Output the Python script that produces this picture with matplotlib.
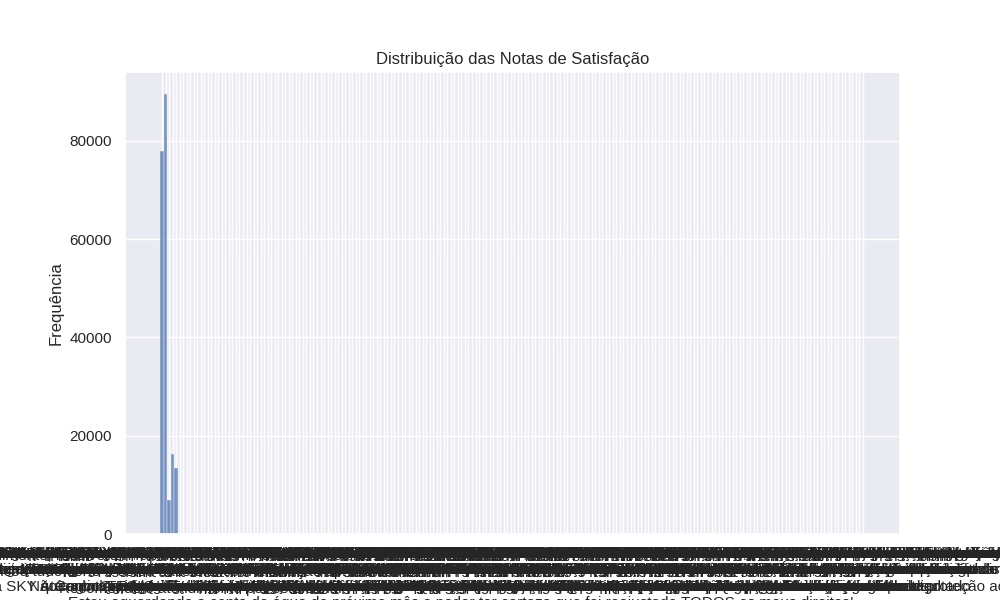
import matplotlib
matplotlib.use('Agg')
import matplotlib.pyplot as plt
import seaborn as sns


# notas de 1 a 5 (na ordem em que aparecem no arquivo)
notas = ['5', '1', '2', '3', '4']
freq_notas = [78000, 89500, 7000, 16300, 13500]

# respostas em texto livre que vieram parar na coluna de nota (1 ocorrência cada)
comentarios = [
    'Empresa não resolveu o problema e ainda cobrou multa indevida na fatura seguinte\nJá liguei diversas vezes e cada atendente fala uma coisa diferente',
    'Atendimento péssimo, fiquei horas esperando na linha e ninguém soube me informar nada\nA ligação caiu três vezes e tive que começar tudo de novo\nNão tenho mais paciência com essa empresa',
    'A TIM cancelou meu plano sem aviso prévio e agora quer cobrar taxa para reativar\nQuero meu plano antigo de volta com as mesmas condições',
    'Problema resolvido parcialmente, ainda aguardo o reembolso do valor cobrado a mais\nA empresa informou que o crédito viria em até duas faturas\nAté agora nada foi creditado na minha conta',
    'Cobrança de serviços que nunca contratei, solicitei o cancelamento várias vezes\nTenho todos os protocolos anotados e mesmo assim nada acontece\nsão a TIM e a SKY que continuam cobrando todo mês e ninguém resolve a situação',
    'Internet continua lenta mesmo após a visita técnica e a troca do roteador\nContratei 100 mega e não chega nem a 10 mega no teste de velocidade',
    'Ótimo atendimento, resolveram rápido e ainda me deram desconto na mensalidade\nFicou tudo certo e estou satisfeito com a solução apresentada\nRecomendo o atendimento por este canal',
    'A SKY não devolveu o valor pago em duplicidade no boleto do mês passado\nSigo sem resposta e sem o dinheiro de volta',
    'Fui bem atendido pela Vivo, a atendente explicou tudo com calma e resolveu\nO valor cobrado indevidamente foi retirado da fatura\nAgradeço pela atenção',
    'O técnico não compareceu na data agendada e não houve remarcação do serviço\nPerdi um dia de trabalho esperando em casa',
    'Sinal da Claro cai toda noite e já abri vários protocolos sem nenhuma solução\nO atendimento diz que é problema na região mas os vizinhos não têm o problema\nQuero o cancelamento sem multa',
    'Só resolveram depois da reclamação aqui no site, pelo telefone foi impossível\nDemorou mas finalmente o serviço voltou a funcionar',
    'Oi cobrou valor acima do contratado na fatura de março e prometeu estorno\nPassaram dois meses e nada foi feito até agora\nContinuo pagando o valor errado todos os meses',
    'Demoraram mais de 10 dias para responder e a resposta não resolveu nada\nVou procurar outros meios para resolver o meu problema',
    'Resposta padrão, não leram minha reclamação e mandaram um texto qualquer\nO problema continua exatamente o mesmo de antes\nEspero uma resposta de verdade',
    'Minha linha foi portada sem minha autorização e perdi meu número de anos\nNinguém sabe explicar como isso aconteceu',
    'Estão de parabéns pela solução, o problema foi resolvido em poucas horas\nO atendente ligou para confirmar que estava tudo funcionando\nMuito obrigado pela atenção',
    'O valor foi estornado mas a multa continua aparecendo na fatura deste mês\nSolicito a retirada da multa que foi cobrada indevidamente',
    'NET mudou o plano sem consultar e aumentaram o valor em trinta por cento\nNão aceitam a volta ao plano antigo nem dão explicação\nIsso é um desrespeito com o cliente antigo',
    'Não consigo falar com ninguém pelo 0800, a ligação sempre cai na espera\nO chat também não funciona e o e-mail nunca é respondido',
    'Aguardando a instalação há mais de um mês, já paguei a taxa de adesão\nCada vez que ligo informam uma nova data para a visita\nNinguém aparece na data marcada',
    'A empresa entrou em contato e resolveu tudo de maneira rápida e educada\nobrigado pela atenção e pelo respeito com o consumidor',
    'Cancelei o serviço em janeiro e continuam mandando boletos todos os meses\nJá enviei o número do protocolo de cancelamento várias vezes\nAgora estão ameaçando negativar meu nome',
    'Meu nome foi negativado por uma dívida que não é minha e nunca contratei\nPeço a retirada imediata do SPC e Serasa e uma resposta por escrito\nSem retorno da operadora até o momento',
    'Atendente foi educado mas não resolveu nada, apenas registrou mais um protocolo\nO problema continua e ninguém dá uma previsão de solução',
    'Recebi o aparelho com defeito e não querem trocar porque passou o prazo\nO defeito apareceu no primeiro dia de uso\nTenho as fotos e o vídeo mostrando o problema',
    'TIM resolveu em dois dias e ainda me ligou para saber se estava tudo bem\nFiquei satisfeito com a rapidez da resposta',
    'Plano de dados acaba antes do prazo e suspeito de cobrança indevida de consumo\nNão uso vídeos nem aplicativos pesados no celular\nQuero o extrato detalhado do consumo',
    'Falta de respeito com o consumidor, prometem uma coisa e fazem outra\nNunca mais contrato nada com essa operadora',
    'Reclamação encerrada sem solução e sem nenhum contato da empresa comigo\nO problema continua igual desde o primeiro dia\nVou abrir uma nova reclamação',
    'Solicitei a segunda via da fatura e não chegou nem pelo correio nem por e-mail\nAgora estão cobrando juros pelo atraso no pagamento',
    'Os créditos do pré-pago somem sem uso e já é a terceira vez este ano\nFaço a recarga e em dois dias o saldo está zerado\nNinguém explica para onde vai o dinheiro',
    'Prometeram desconto na próxima fatura e não cumpriram o que foi combinado\nO atendente ainda disse que não havia registro da promessa',
    'A Vivo bloqueou minha linha sem motivo e fiquei sem comunicação por uma semana\nPreciso do telefone para trabalhar e tive prejuízo\nQuero uma compensação pelo tempo sem serviço',
    'Satisfeito com o retorno, a empresa cumpriu o prazo e resolveu o problema\nEspero que não aconteça novamente',
    'Péssimo, não recomendo essa empresa para ninguém, atendimento horrível\nFiquei semanas sem serviço e ainda tive que pagar a fatura cheia\nVou cancelar assim que puder',
    'Após a reclamação o serviço voltou a funcionar normalmente na minha casa\nEspero que continue assim e que não precise reclamar de novo',
    'A loja não aceitou a devolução dentro do prazo de sete dias do arrependimento\nO produto estava lacrado e com a nota fiscal\nExijo o reembolso integral do valor',
    'Sinal de TV com chuviscos constantes, principalmente nos canais abertos\nO técnico veio e disse que está tudo normal com a antena',
    'Oferta anunciada não foi respeitada na contratação do plano pela internet\nQuero pagar o valor que estava no anúncio do site\nGuardei a imagem da propaganda',
    'O problema se repete todo mês, sempre uma cobrança diferente na fatura\nJá cansei de ligar para pedir a correção dos valores',
    'Continuo sem internet em casa, a empresa diz que está tudo normal no sistema\nMas o modem não conecta e a luz fica piscando vermelha\nTrabalho em casa e estou tendo muito prejuízo',
    'Resolvido, mas demorou demais para a empresa tomar uma providência\nForam mais de trinta dias esperando uma solução',
    'Não recebi o cartão de crédito e estão cobrando anuidade na minha conta\nNunca solicitei esse cartão e quero o cancelamento imediato\nTambém quero o estorno dos valores debitados',
    'Cobraram taxa de visita técnica que não foi feita, ninguém veio até minha casa\nPeço a retirada da cobrança e um pedido de desculpas',
    'A Claro fez acordo e cumpriu tudo que foi prometido dentro do prazo\nagradeço a atenção da equipe de atendimento\nFoi a primeira vez que resolveram algo tão rápido',
    'Fidelidade cobrada mesmo depois de vencida, já passaram mais de doze meses\nO contrato diz claramente que a fidelidade era de um ano',
    'Portabilidade não foi concluída e fiquei sem número por vários dias\nA nova operadora diz que o problema é da antiga\nE a antiga diz que o problema é da nova',
    'O pacote de canais foi alterado sem aviso e perdi os canais de esporte\nO valor da mensalidade continua o mesmo de antes',
    'Espero que tomem providências, pois já é a quinta reclamação sobre o mesmo assunto\nNinguém da empresa parece se importar com o cliente\nVou levar o caso ao juizado especial',
    'Ligações caem o tempo todo na minha região, não consigo falar mais de um minuto\nA operadora diz que a cobertura é excelente no meu bairro',
    'Pedi cancelamento por telefone e não tenho o número do protocolo\nAgora negam que pedi e continuam cobrando a mensalidade\nQuero a gravação da ligação',
    'Excelente retorno da empresa, resolveram tudo em um único contato\nParabéns à equipe que me atendeu',
    'Mandaram chip errado pelos correios e tive que esperar mais uma semana\nO novo chip também veio com o número errado\nAinda estou sem linha funcionando',
    'A fatura chega depois do vencimento e ainda cobram juros e multa por atraso\nUm absurdo, já pedi para mudar a data várias vezes',
    'O SAC desliga na minha cara sempre que peço para falar com um supervisor\nNão existe respeito com o consumidor nessa empresa\nQuero que a ouvidoria me retorne',
    'Bom atendimento pelo chat, a atendente foi rápida e resolveu o problema\nRecebi a confirmação por e-mail logo depois',
    'Não informaram o prazo para a solução e sigo aguardando sem resposta\nCada dia que passa fico mais tempo sem o serviço\nJá paguei a fatura integral mesmo sem usar',
    'Valor da mensalidade dobrou sem explicação e sem nenhuma comunicação prévia\nQuero saber o motivo do aumento e a devolução da diferença',
    'A SKY cortou o sinal mesmo com as contas pagas em dia todos os meses\nEnviei os comprovantes de pagamento por e-mail e pelo aplicativo\nNinguém analisou os documentos até agora',
    'Minha reclamação foi ignorada e o problema continua sem nenhuma solução\nVou cancelar o serviço e procurar outra operadora',
    'Ainda não resolveram o problema de velocidade da internet contratada\nOs testes mostram menos da metade do que foi prometido\nPago por um serviço que não recebo',
    'Tudo certo agora, a empresa resolveu e me mandou uma mensagem confirmando\nobrigada pela atenção e pela rapidez',
    'Recebo ligações de cobrança todos os dias, até no domingo de manhã cedo\nA dívida nem é minha e já informei isso várias vezes\nPeço que parem de ligar para o meu número',
    'Serviço de roaming cobrado sem uso, não saí da minha cidade no período\nQuero a revisão da fatura e o estorno do valor cobrado',
    'A Oi não tem técnico na minha cidade e estou há 40 dias sem telefone fixo\nSou idoso e preciso do telefone para emergências\nPeço urgência na solução do problema',
    'Cobrança em duplicidade no cartão de crédito da mesma compra de recarga\nO banco disse que a empresa precisa fazer o estorno',
    'Empresa respondeu dentro do prazo e explicou o motivo da cobrança na fatura\nFiquei satisfeito com a explicação recebida\nO valor foi corrigido no mês seguinte',
    'Ofereceram um bônus de internet que não resolve meu problema de cobrança\nQuero o cancelamento sem multa e a devolução dos valores',
    'Resolveram metade do problema, a linha voltou mas a internet continua sem funcionar\nPreciso que resolvam o resto o quanto antes\nJá são quinze dias sem internet no celular',
    'O reembolso foi feito em créditos para o celular e não em dinheiro como pedi\nNão uso mais essa linha e quero o valor na minha conta',
    'Me enganaram na venda do plano, o vendedor prometeu internet ilimitada\nNo contrato era diferente e a internet acaba no meio do mês\nQuero o plano que foi prometido na venda',
    'A NET consertou o cabo no mesmo dia e o sinal voltou a funcionar bem\nO técnico foi muito educado e explicou o que aconteceu',
    'Não aceitaram meu pedido de downgrade para um plano mais barato\nDizem que só é possível depois de um ano de contrato\nNinguém me informou isso na contratação',
    'Estou muito insatisfeito com a operadora e com o tratamento recebido\nVou procurar o PROCON para resolver essa situação',
    'Prazo de entrega não cumprido, o aparelho deveria chegar em cinco dias úteis\nJá se passaram três semanas e nenhuma informação de rastreio\nQuero o cancelamento da compra',
    'Fui atendido com respeito e tive o problema resolvido na primeira ligação\nA empresa está de parabéns pelo atendimento',
    'Serviços adicionais ativados sem permissão como jogos, horóscopo e notícias\nNunca autorizei nenhum desses serviços no meu celular\nQuero o estorno de tudo que foi cobrado',
    'Sem resposta até hoje, a reclamação foi aberta há mais de um mês\nNinguém da empresa entrou em contato comigo',
    'Mudaram a data de vencimento sem pedir e agora a fatura vence antes do meu salário\nSolicito a volta para a data original de vencimento\nNão concordo com a mudança feita',
    'A operadora reconheceu o erro na cobrança e pediu desculpas pelo transtorno\nInformaram que o valor seria corrigido na próxima fatura\nRecebi o protocolo por SMS e guardei todos os comprovantes\n'
    'Estou aguardando a conta de água do próximo mês e poder ter certeza que foi reajustado TODOS os meus direitos!',
    'Empresa não cumpre o que promete, o plano contratado nunca funcionou direito\nVou cancelar e procurar outra operadora',
    'O modem novo também apresenta defeito e a internet cai várias vezes ao dia\nSolicito a troca definitiva do equipamento\nJá é o terceiro modem que recebo',
    'Ainda estou esperando o técnico que foi agendado para a semana passada\nNinguém me ligou para avisar sobre o atraso',
    'Consegui cancelar depois de muita insistência e muitas ligações\nMas cobraram a multa rescisória mesmo assim\nSendo que o serviço nunca funcionou direito desde a instalação',
    'Nota zero para o atendimento, ninguém sabe resolver nada nessa empresa\nFui transferido para cinco setores diferentes',
    'O valor foi devolvido corretamente na minha conta dentro do prazo informado\nAgradeço pela solução e pelo retorno rápido\nFicou tudo resolvido',
    'Cobrança de ponto adicional que já foi retirado há mais de seis meses\nJá devolvi o equipamento na loja e tenho o comprovante',
    'Demora absurda para resolver um problema simples de cadastro\nForam mais de vinte dias para alterar um endereço\nNunca vi tanto descaso',
    'Problema solucionado com eficiência e rapidez pela equipe técnica\nA internet está funcionando perfeitamente agora',
    'A TIM reduziu a franquia de internet sem comunicar os clientes\nPago o mesmo valor por menos dados todos os meses\nIsso é propaganda enganosa e desrespeito ao contrato',
    'Não recebi nenhum contato da empresa depois de abrir a reclamação\nO problema continua e estou sem o serviço',
    'Só querem vender, não dão suporte depois que o cliente assina o contrato\nQuando preciso de ajuda ninguém atende\nNa hora de vender ligam todos os dias',
    'A conta veio com ligações que não fiz para números de outros estados\nPeço a revisão da fatura e a retirada dessas ligações',
    'Tive que ir até a loja para resolver porque pelo telefone foi impossível\nNa loja resolveram em quinze minutos\nPor que não resolvem pelo telefone também',
    'O aplicativo não funciona e não consigo pagar a fatura pelo celular\nO código de barras vem errado e o banco não aceita\nJá tentei de tudo e a fatura venceu',
    'Retorno rápido e eficiente, a empresa resolveu antes do prazo informado\nEstou satisfeito com o resultado',
    'Foi resolvido após muitas ligações e muita paciência da minha parte\nEspero não passar por isso de novo\nO atendimento precisa melhorar muito',
    'A Vivo não libera o desbloqueio do aparelho mesmo com tudo quitado\nJá paguei todas as parcelas do celular',
    'Nenhuma solução foi apresentada e a empresa apenas pediu mais prazo\nJá dei prazo suficiente e nada foi feito\nQuero uma resposta definitiva',
    'O problema voltou uma semana depois de a empresa dizer que estava resolvido\nAbri nova reclamação com o mesmo assunto',
    'Fiquei sem sinal durante todo o feriado e não consegui falar com a família\nQuero desconto proporcional aos dias sem serviço\nA empresa se recusa a dar qualquer desconto',
    'Cumpriram o acordo feito pelo telefone e o valor foi corrigido na fatura\nObrigado pelo retorno',
    'Não tenho mais interesse no serviço, apenas quero cancelar sem complicação\nCada vez que ligo tentam me oferecer outro plano\nNão quero nenhuma oferta, só o cancelamento',
    'Alteraram meu endereço de cobrança sem minha autorização\nAs faturas vão para outra pessoa em outro bairro',
    'Serviço horrível, a TV trava o tempo todo e o controle não funciona\nJá pedi a troca do aparelho várias vezes\nNinguém vem fazer a troca',
    'Ainda não recebi o estorno prometido no cartão de crédito há dois meses\nA empresa diz que já fez mas o banco não recebeu nada',
    'A Claro pediu mais prazo e resolveu dentro do combinado com o cliente\nFiquei satisfeito com a solução apresentada\nRecomendo o canal para quem tiver problema',
    'Me trataram com descaso e ironia durante todo o atendimento telefônico\nQuero que a empresa tome providências com o atendente',
    'Internet funciona apenas durante o dia, à noite fica impossível de usar\nA velocidade cai para quase nada depois das sete horas\nPago pelo plano mais caro da operadora',
    'Recebi a resposta mas não concordo, o valor cobrado continua errado\nA empresa não explicou de onde vem essa diferença',
    'Pedido atendido, o cancelamento foi feito e a última fatura veio correta\nAgradeço a atenção\nEncerro a reclamação',
    'A Oi transferiu a linha para outro titular sem minha autorização\nQuero meu número de volta o mais rápido possível',
    'Cobrança indevida de seguro do celular que nunca foi contratado por mim\nO valor vem todo mês junto com a fatura do plano\nQuero o cancelamento e a devolução em dobro',
    'Demorou mas resolveram, foram quase dois meses de espera pela solução\nO importante é que agora está funcionando',
    'Propaganda enganosa na oferta de fibra óptica para o meu endereço\nNão existe fibra no meu bairro e instalaram cabo comum\nA velocidade é muito menor que a contratada',
    'Espero não precisar reclamar novamente sobre o mesmo problema\nDesta vez a empresa resolveu de forma correta',
    'O atendimento da ouvidoria foi o único que ajudou de verdade\nOs outros canais de atendimento não funcionam\nNinguém retorna as ligações nem os e-mails enviados',
    'Contrato assinado sem o meu consentimento por um vendedor da loja\nA assinatura no documento não é minha',
    'A SKY resolveu e ofereceu desconto de três meses na mensalidade\nFiquei satisfeito com a proposta apresentada\nProblema encerrado',
    'Solicitei o cancelamento do serviço pelo site e recebi a confirmação\nReceberam o pedido mas não cancelaram o serviço',
    'Não recebo as faturas por e-mail desde que mudei de plano na loja\nJá atualizei o cadastro duas vezes pelo aplicativo\nContinuo sem receber nada',
    'O técnico foi grosseiro e saiu sem terminar a instalação da internet\nO cabo ficou solto na parede e solicito nova visita',
    'Velocidade contratada não é entregue em nenhum horário do dia\nOs testes mostram no máximo trinta por cento do plano\nQuero o abatimento proporcional na fatura',
    'Atendimento nota dez, resolveram tudo com muita educação e rapidez\nParabéns à equipe do atendimento',
    'Minha recarga não entrou no celular mesmo com o pagamento confirmado\nPaguei e não recebi os créditos\nO banco já confirmou que o valor saiu da conta',
    'Ficaram de retornar e não retornaram, estou esperando desde a semana passada\nNinguém liga e ninguém responde os e-mails',
    'Valor cobrado após o cancelamento do contrato, mesmo com o protocolo\nQuero o reembolso em dobro do valor pago indevidamente\nConforme o Código de Defesa do Consumidor',
    'Não resolveu nada, apenas enviaram uma mensagem automática pelo celular\nO problema continua o mesmo de antes',
    'Instalação feita no prazo combinado e o técnico deixou tudo funcionando\nMuito satisfeito com o serviço prestado\nRecomendo a empresa',
    'A empresa alega que não há débito mas continua cobrando por telefone\nRecebo mensagens de cobrança toda semana no celular',
    'Linha bloqueada por engano por suspeita de fraude que não existiu\nFiquei três dias sem conseguir usar o telefone\nQuero uma explicação sobre o bloqueio',
    'Pedi a portabilidade para outra operadora e a TIM segurou meu número\nPerdi a promoção da nova empresa por causa da demora',
    'Agradeço pela atenção, o problema foi resolvido de forma satisfatória\nA empresa cumpriu todos os prazos\nNada mais a reclamar',
    'Pessimo serviço de TV por assinatura, os canais ficam fora do ar toda semana\nE a mensalidade é cobrada integralmente',
    'Continuam ligando oferecendo plano que não quero várias vezes por dia\nPeço para me tirarem da lista de ligações\nJá me cadastrei no não perturbe',
    'A resposta da empresa não condiz com a realidade dos fatos relatados\nNunca recebi a visita técnica que dizem ter feito',
    'Fui informado que o sinal seria restabelecido em vinte e quatro horas\nJá se passaram cinco dias e sigo sem serviço\nNinguém dá nenhuma previsão de retorno',
    'Retiraram a cobrança indevida e enviaram uma nova fatura corrigida\nFiquei satisfeito com a solução',
    'Parcialmente resolvido, o valor foi corrigido mas a multa continua na conta\nPreciso que retirem também a multa\nO restante ficou certo',
    'Não consigo acessar minha conta no aplicativo desde a última atualização\nO suporte não ajuda e só manda reinstalar',
    'Cobraram por equipamento que foi devolvido na loja no dia do cancelamento\nTenho o comprovante de devolução assinado pelo atendente\nQuero a retirada dessa cobrança',
    'A NET cobrou taxa de mudança de endereço sendo que a mudança foi no mesmo prédio\nIsso é abusivo e quero a devolução do valor',
    'Resolveram e pediram desculpas pelo transtorno causado ao cliente\nO serviço está funcionando normalmente agora\nObrigado',
    'Estou sem telefone fixo há semanas e a empresa não dá previsão de conserto\nPreciso do telefone para o meu comércio',
    'Plano familiar cobrado como individual para cada uma das quatro linhas\nQuero a correção das faturas e a devolução da diferença\nO contrato mostra o plano familiar',
    'Muito bom, a empresa resolveu tudo e ainda me deu um bônus de internet\nSatisfeito com o atendimento',
    'A fatura veio com valor de outro cliente e com os dados pessoais errados\nIsso é falta de segurança com as informações dos clientes\nQuero a fatura correta com meus dados',
    'Atendimento demorado e confuso, cada atendente dá uma informação diferente\nAté agora ninguém sabe me dizer o que aconteceu',
    'O desconto prometido não foi aplicado na fatura deste mês nem do anterior\nO atendente confirmou o desconto por telefone\nTenho o protocolo da ligação',
    'Não fui informado sobre a fidelidade no momento da contratação\nO vendedor omitiu essa informação e agora cobram multa',
    'Já fiz várias reclamações e nada muda, o serviço continua ruim\nPenso seriamente em procurar a justiça\nVou juntar todos os protocolos',
    'A Vivo entrou em contato e explicou a cobrança que eu não entendia\nEntendi o motivo e ficou tudo esclarecido',
    'Sem sinal na zona rural mesmo com a propaganda de cobertura total\nComprei o plano por causa da propaganda\nQuero cancelar sem pagar multa',
    'Bom retorno, a empresa ligou e resolveu o problema da fatura\nObrigado pela agilidade',
    'Empresa enviou o aparelho errado, pedi um modelo e veio outro\nPedi a troca e não fizeram até agora\nO aparelho continua guardado na caixa',
    'O reembolso foi menor que o valor pago e ninguém explica a diferença\nQuero receber o valor integral que paguei',
    'Meu plano foi renovado automaticamente com valor mais alto\nSem nenhum aviso prévio ou mensagem da operadora\nQuero voltar ao valor anterior',
    'Espero uma solução definitiva para o problema de sinal na minha casa\nJá foram três visitas técnicas sem resultado',
    'Solicitação atendida dentro do prazo e com a devida atenção ao cliente\nA empresa resolveu tudo corretamente\nEstou satisfeito',
    'A internet cai sempre que chove e demora horas para voltar\nJá trocaram o cabo duas vezes e o problema continua',
    'Não sei mais a quem recorrer, a empresa não resolve e não responde\nEstou pagando por um serviço que não tenho\nVou procurar meus direitos',
    'A Claro reconheceu o erro e devolveu o dinheiro na minha conta\nO valor caiu na conta em três dias, muito obrigado',
    'Cobrança de pacote internacional que não utilizei, nunca viajei para fora\nQuero a retirada da cobrança e o estorno\nO valor é muito alto para o meu orçamento',
    'A empresa cumpriu o prometido e o problema foi resolvido sem custos\nFicou tudo certo com a minha linha',
    'O número de protocolo informado não existe no sistema da empresa\nNinguém encontra meu pedido de cancelamento\nTenho o protocolo anotado com data e hora',
    'Nada foi resolvido até o momento e continuo sem o serviço contratado\nQuero uma solução urgente',
    'Atendentes passam a ligação de um setor para outro sem resolver nada\nNinguém sabe resolver e perdi a tarde inteira no telefone\nIsso é um desrespeito com o consumidor',
    'Cancelamento confirmado e a última fatura foi cobrada corretamente\nAgradeço a resolução',
    'Serviço suspenso indevidamente mesmo com todas as faturas pagas em dia\nEnviei os comprovantes e pedi a religação imediata\nAinda estou sem serviço',
    'Paguei a fatura em atraso e a linha não foi religada até agora\nJá enviei o comprovante pelo chat e pelo e-mail',
    'Não recebi o bônus da promoção que foi anunciada na televisão\nCumpri todas as regras da promoção\nQuero receber o bônus prometido',
    'A Oi prometeu a visita para sábado e ninguém apareceu\nPerdi o dia inteiro esperando em casa',
    'Resolvido com sucesso, o serviço está normal e a cobrança foi corrigida\nObrigado pela atenção dada ao meu caso\nEncerro a reclamação satisfeito',
    'Houve cobrança de juros sobre um valor que já estava pago há meses\nQuero a retirada dos juros da fatura atual',
    'O vendedor me ofereceu um plano e ativaram outro completamente diferente\nQuero o plano original que foi oferecido\nA gravação da venda comprova o que digo',
    'Péssima experiência com a empresa do começo ao fim do contrato\nNão indico para ninguém',
    'A empresa encerrou a reclamação sem me consultar sobre a solução\nO problema continua e vou abrir nova reclamação\nEspero que desta vez alguém leia',
    'O sinal melhorou depois da reclamação e a internet está estável\nAgradeço a atenção da equipe técnica',
    'Não concordo com a resposta, a cobrança continua sendo indevida\nNunca utilizei o serviço que estão cobrando\nQuero a devolução de tudo',
    'Recebi a visita técnica e o problema foi resolvido no mesmo dia\nTécnico muito atencioso e educado',
    'Cobrança de multa por atraso que não houve, paguei antes do vencimento\nTenho o comprovante do pagamento com a data\nPeço a retirada da multa',
    'A SKY não aceita o cancelamento por telefone e exige que eu vá até a loja\nMoro a cem quilômetros da loja mais próxima',
    'Fui atendido rapidamente e tive meu problema resolvido sem complicação\nMuito bom o atendimento\nRecomendo',
    'Meu pedido de portabilidade foi negado sem motivo pela operadora\nQuero saber o motivo da recusa',
    'Ainda falta o reembolso de dois meses cobrados a mais na fatura\nO resto foi resolvido e o serviço está funcionando\nAguardo o reembolso',
    'Retorno insatisfatório, a empresa não resolveu e apenas justificou o erro\nQuero uma solução de verdade',
    'A operadora diz que a área não tem cobertura de sinal\nMas venderam o plano mesmo assim sabendo disso\nQuero o dinheiro de volta',
    'Resolveram no mesmo dia e ainda mandaram mensagem confirmando a solução\nÓtimo atendimento',
    'Estou pagando por um serviço que não funciona há mais de dois meses\nJá fiz todas as reclamações possíveis\nNada foi resolvido',
    'A TIM cobrou um pacote de SMS que não pedi e nunca utilizei\nEstorno solicitado pelo atendimento',
    'Satisfeito com a solução apresentada pela empresa neste canal\nO valor foi devolvido e o plano corrigido\nNada mais a acrescentar',
    'A empresa mandou uma carta de cobrança para um endereço antigo\nO débito já estava quitado há mais de um ano\nExijo a retirada do nome dos órgãos de proteção ao crédito',
    'Precisei reclamar três vezes para ser atendido e ter o problema resolvido\nEspero que melhorem o atendimento',
    'O problema foi resolvido e a empresa me deu um mês grátis de internet\nAgradeço a atenção e a solução rápida\nEstou satisfeito com o resultado',
]
freq_comentarios = [1] * len(comentarios)

sns.set_theme()
plt.rcParams['font.family'] = ['Liberation Sans', 'DejaVu Sans']

plt.figure(figsize=(10, 6))
sns.histplot(x=notas + comentarios, weights=freq_notas + freq_comentarios)
plt.title('Distribuição das Notas de Satisfação')
plt.xlabel('Nota')
plt.ylabel('Frequência')

plt.savefig('out.png', dpi=100)
